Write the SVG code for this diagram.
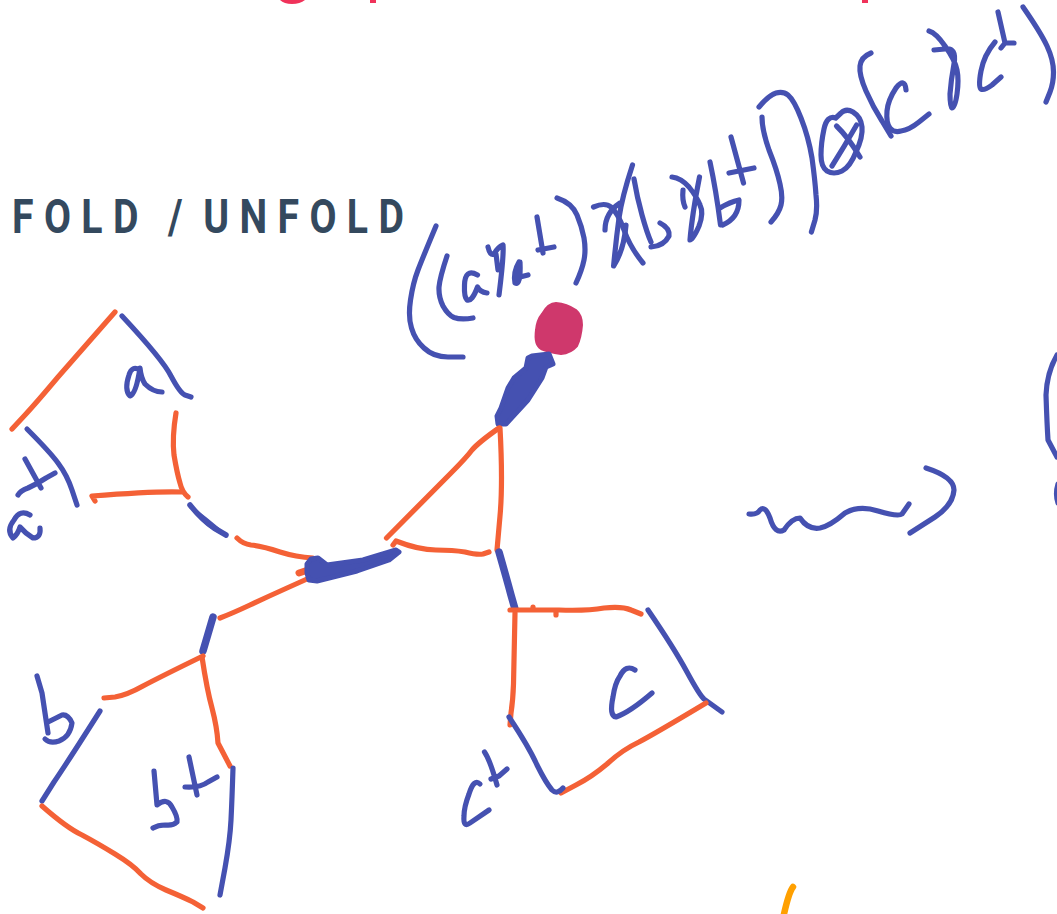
<svg xmlns="http://www.w3.org/2000/svg" width="1057" height="914" viewBox="0 0 1057 914">
<style>
.b{fill:none;stroke:#4551b1;stroke-width:5.2;stroke-linecap:round;stroke-linejoin:round}
.o{fill:none;stroke:#f46136;stroke-width:5.2;stroke-linecap:round;stroke-linejoin:round}
.t{fill:none;stroke:#4551b1;stroke-width:7.5;stroke-linecap:round;stroke-linejoin:round}
.f{fill:#4551b1;stroke:#4551b1;stroke-width:5;stroke-linejoin:round}
.r{fill:#f0325a}
.title{font-family:Roboto,"Liberation Sans",sans-serif;font-weight:700;font-size:49px;fill:#34495e;letter-spacing:13px}
</style>
<rect width="1057" height="914" fill="#fff"/>
<g id="clipped-heading">
<path class="r" d="M280,0 H305 Q300,4 292,4 Q284,4 280,0 Z"/>
<rect class="r" x="370" y="0" width="6" height="3"/>
<rect class="r" x="862" y="0" width="6" height="3"/>
</g>
<g id="title"><text class="title" transform="translate(12,232.500) scale(0.8,1)"><tspan x="0" y="0">FOLD</tspan> <tspan x="195" y="0">/</tspan> <tspan x="239" y="0">UNFOLD</tspan></text></g>
<g id="formula">
<path class="b" d="M436,226 Q423,257 418,270 Q413,283 410.500,300 Q408,317 411.500,328 Q415,340 424,348 Q433.500,357 448,357 L463,357"/>
<path class="b" d="M447,256 Q440,277 439,287 Q438.500,297 443,306 Q448,315 454,317.500 Q461,320 473,318"/>
<path class="b" d="M477.500,275 Q465,268 464.500,285 Q464,297 467,300 Q472,302 477.500,287 Q480,292 487,293"/>
<path class="b" d="M488,247 Q490,256 494,254 Q498,247 503,245 Q504,255 499,295 M496,254 L498,270"/>
<path class="b" d="M519,262 Q513,272 515,283 Q521,286 520,262 M520,277 L528,275"/>
<path class="b" d="M537,217 L543,253 M538,250 L554,247"/>
<path class="b" d="M557,198 Q572,203 577,215 Q582,227 584,238 Q586,250 584,260 Q582,270 576,283"/>
<path class="b" d="M593.500,207 Q605,202 611,207 Q618,213 624,230 Q630,247 643,263"/>
<path class="b" d="M632.500,165 Q622,197 619,218 Q616,240 613.600,266 Q624,250 626,225 M605,230 Q605,213 620,203"/>
<path class="b" d="M634,179 Q637,197 642,215 Q647,233 651,242 M660,223 Q670,228 669,236 Q664,246 651,247"/>
<path class="b" d="M672,177 Q681,178 689,187 Q697,197 700,205 Q704,213 699,226 Q693,240 690,240 Q692,215 699.500,177 M683,190 Q682,200 685,207"/>
<path class="b" d="M710,162 Q716,190 720.500,225 M720,208 Q730,202 739,200 Q739,218 722.600,225"/>
<path class="b" d="M731,137 L743.500,183 M729,173 L754,168"/>
<path class="b" d="M762,117 Q762,130 769,150 Q777,170 780,184 Q783,197 781,205 Q779,213 771,222"/>
<path class="b" d="M759,107 Q769,95 776,93 Q783,91 788,95 Q794,100 801,118 Q808.500,137 812,158 Q815,180 816,195 Q817.700,210 815,220 L811.400,232"/>
<path class="b" d="M835.700,118 Q827,115 824,129 Q821,143 821,155 Q821,167 827,171 Q833.600,175 842,171 Q850,167 856,152 Q863,137 862,127 Q861,117 853,112 Q846,108 841,113 L835.700,118"/>
<path class="b" d="M836.500,126 Q848,137 860,157 M856.600,125 Q844,147 832,166"/>
<path class="b" d="M871,53 Q861,57 860,66 Q859,75 866,91 Q873,107 882,121 L891,136"/>
<path class="b" d="M906,90 Q905,77 896,88 Q888,100 887,111 Q886,123 890,128 Q894,133 901,131 Q909,130 919,122 L929,114"/>
<path class="b" d="M929,31 Q936,33 945,46 Q955,60 957,70 Q959,80 957,94 Q955,108 952,108 Q950,107 950,94 Q951,80 954,64 Q957,47 945,49 L934,50"/>
<path class="b" d="M995,42 Q984,55 981,71 Q978,87 981,89 Q984,91 992,85 L1001,77"/>
<path class="b" d="M998,12 L1005,43 M1001,48 L1005,43 L1014,43"/>
<path class="b" d="M1023,7 Q1041,33 1047,46 Q1053.500,60 1053.500,72 Q1053.500,83 1050,92 L1046,102"/>
</g>
<g id="knot">
<path fill="#cf386c" stroke="#cf386c" stroke-width="2" stroke-linejoin="round" d="M536,330 Q537,320 542,314 Q548,303 556,303 Q567,304 576,310 Q582,315 582,325 Q581,338 577,346 Q571,353 561,354 Q548,352 541,349 Q534,345 536,330 Z"/>
<path class="f" d="M532,356 L549,354 L553,364 L546,367 L542,378 L528,400 L506,424 L498,424 L497,416 L501,408 L508,388 L514,378 L526,368 L528,358 Z"/>
</g>
<g id="connectors">
<path class="o" d="M115,312 Q80,352 58,377 Q37,402 25,415 L12,429"/>
<path class="o" d="M176,413 Q172,437 174,455 Q177,473 180,483 Q182,492 188,497"/>
<path class="o" d="M95,501 L92,496 Q155,491 182,492"/>
<path class="t" d="M190,505 Q202,520 214,528 L226,535" style="stroke-width:5.500"/>
<path class="f" style="stroke-width:2" d="M190,506 Q204,516 226,535 Q208,530 190,506 Z"/>
<path class="o" d="M237,538 Q243,544 251,545 Q262,546 280,552 Q296,557 313,558"/>
<path class="o" d="M220,618 Q233,613 250,605 Q267,597 287,588 L307,579"/>
<path class="o" d="M299,573 L308,570" style="stroke-width:7"/>
<path class="f" d="M307,564 L311,559 L318,558 L327,565 L363,560 L396,550 L399,552 L389,560 L357,571 L317,581 L309,580 L307,573 Z"/>
<path class="t" d="M213,617 L203,651"/>
<path class="o" d="M203,656 Q160,677 143,686 Q127,695 115,697 L104,698"/>
<path class="o" d="M202,657 Q207,690 212,708 Q217,727 218,743 L230,766"/>
<path class="b" d="M100,711 Q67,763 54,782 L42,801"/>
<path class="b" d="M233,768 Q232,800 231,820 Q230,840 225,868 L220,895"/>
<path class="o" d="M42,806 Q67,828 82,835 Q97,843 115,854 Q133,865 141,874 Q150,883 166,890 Q183,897 193,902 L203,908"/>
<path class="b" d="M122,316 Q163,360 171,376 Q180,393 185,395 L191,397"/>
<path class="b" d="M27,429 Q50,452 58,463 Q67,475 72,490 L77,505"/>
<path class="o" d="M386.500,538 Q436,488 451,473 Q466,458 472,450 Q479,442 499,428"/>
<path class="o" d="M500,428 Q503,483 500,516 L497,550"/>
<path class="o" d="M393,545 L396,541 Q419,550 436,550 Q453,550 465,552 Q477,555 483,554 L489,552"/>
<path class="t" d="M499,552 Q507,580 511,595 L515,609"/>
<path class="o" d="M510,610 Q531,610 559,610 Q587,611 604,608 Q622,606 631,610 L641,614 M533,607 L533,610 M556,611 L556,615"/>
<path class="o" d="M515,613 Q514,667 513.500,684 Q513,700 511,713 L510,725"/>
<path class="b" d="M648,610 Q674,648 687,672 Q699.500,695 704,699 L722,712"/>
<path class="o" d="M706,703 Q656,733 639,742 Q622,750 607,764 Q591.600,777 576,785 L561,793"/>
<path class="b" d="M509,717 Q529,747 537,765 Q546,783 552,790 Q557,795 563,788"/>
</g>
<g id="labels">
<path class="b" d="M140,370 Q132,365 129,375 Q124,390 130,396 Q136,394 140,368 Q141,378 145,384 Q153,392 162,392"/>
<path class="b" d="M25,459 L41,488 M18,495 Q20,491 28,488 Q37,484 46,478 L55,473"/>
<path class="b" d="M30,515 Q20,509 14,520 Q6,530 13,538 Q18,534 20,527 Q25,533 33,538 Q41,538 40,528"/>
<path class="b" d="M37,676 L42,693 L48,733 M45,739 Q50,744 59,741 Q70,737 72,723 Q68,714 62,715 L48,722"/>
<path class="b" d="M154,771 L157,805 Q167,797 172,807 Q178,817 177,822 Q173,826 165,825 Q158,825 153,828"/>
<path class="b" d="M189,757 L197,795 M185,787 Q200,788 208,782 L217,777"/>
<path class="b" d="M635,670 Q626,664 620,676 Q615,683 613,697 Q609,716 616,717 Q630,712 652,693"/>
<path class="b" d="M480,784 Q474,778 469,794 Q464,807 464,816 Q463,828 470,823 L489,810"/>
<path class="b" d="M484.500,752 Q490,760 497,785 M491,779 L499,776 L507,769"/>
<path class="b" d="M749,514 Q757,515 760,510 Q765,505 770,518 Q775,535 784,530 Q792,518 800,518 Q808,530 820,528 Q830,526 845,513 Q859,505 878,511 Q898,517 902,514 L909,504"/>
<path class="b" d="M926,468 Q954,477 954,490 Q953,505 935,517 L910,533"/>
<path class="b" d="M1057,355 Q1047,372 1046,395 Q1047,425 1048,440 L1057,457"/>
<path class="b" d="M1058,484 Q1055,494 1058,503"/>
<path fill="none" stroke="#ffa000" stroke-width="6.500" stroke-linecap="round" d="M793,887 Q789,892 784,914"/>
</g>
</svg>
